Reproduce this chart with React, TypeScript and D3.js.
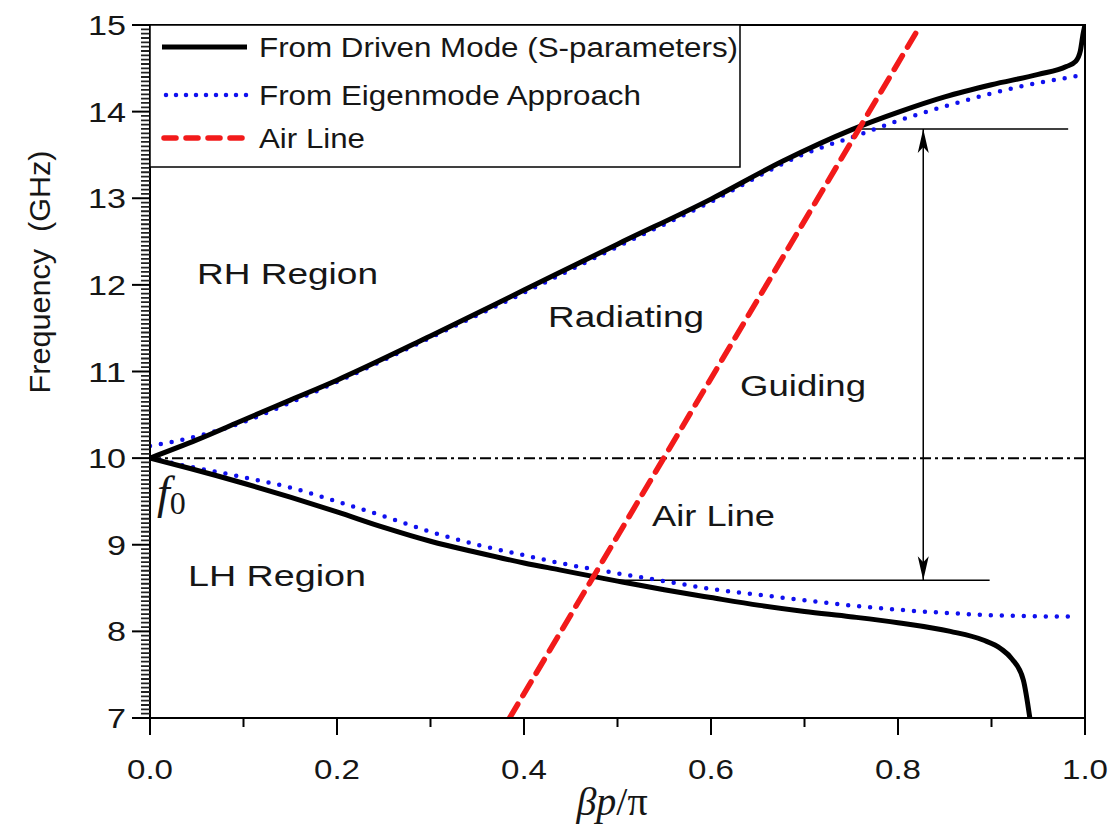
import React from 'react';
import * as d3 from 'd3';

// --- data (beta*p/pi, GHz) ---
const drivenUpper: [number, number][] = [
  [0, 10], [0.05, 10.21], [0.1, 10.44], [0.15, 10.67], [0.2, 10.9], [0.3, 11.41],
  [0.4, 11.94], [0.5, 12.47], [0.6, 12.99], [0.677, 13.43], [0.75, 13.79], [0.802, 14.0],
  [0.85, 14.17], [0.9, 14.31], [0.95, 14.43], [0.98, 14.52], [0.99, 14.58],
  [0.995, 14.7], [0.998, 14.9], [1.0, 15.0],
];
const drivenLower: [number, number][] = [
  [0, 10], [0.043, 9.88], [0.1, 9.71], [0.15, 9.55], [0.2, 9.38], [0.25, 9.2],
  [0.3, 9.04], [0.35, 8.91], [0.4, 8.79], [0.438, 8.71], [0.5, 8.58], [0.55, 8.48], [0.6, 8.39],
  [0.652, 8.3], [0.7, 8.23], [0.749, 8.17], [0.8, 8.1], [0.856, 8.0], [0.891, 7.9],
  [0.91, 7.8], [0.922, 7.68], [0.934, 7.44], [0.941, 7.0],
];
const eigenUpper: [number, number][] = [
  [0, 10.14], [0.025, 10.19], [0.096, 10.4], [0.15, 10.64], [0.2, 10.88], [0.3, 11.39],
  [0.4, 11.91], [0.5, 12.44], [0.6, 12.96], [0.695, 13.49], [0.763, 13.75], [0.799, 13.89],
  [0.856, 14.08], [0.927, 14.28], [0.991, 14.41],
];
const eigenLower: [number, number][] = [
  [0, 10], [0.043, 9.9], [0.1, 9.78], [0.15, 9.66], [0.2, 9.5], [0.25, 9.33],
  [0.3, 9.15], [0.35, 9.0], [0.4, 8.88], [0.438, 8.79], [0.5, 8.67], [0.55, 8.58], [0.6, 8.49],
  [0.645, 8.43], [0.7, 8.36], [0.749, 8.3], [0.8, 8.25], [0.856, 8.21], [0.92, 8.18],
  [0.991, 8.17],
];
const airLineGHzPerUnit = 18.2;
const airLineFreqs = [7, 15];
const f0 = 10;
const upperEdge = { f: 13.8, from: 0.752, to: 0.982 };
const lowerEdge = { f: 8.59, from: 0.485, to: 0.898 };
const arrowAt = 0.827;

const xTicks = [0, 0.2, 0.4, 0.6, 0.8, 1.0];
const xMinor = [0.1, 0.3, 0.5, 0.7, 0.9];
const yTicks = [7, 8, 9, 10, 11, 12, 13, 14, 15];
const yMinorStep = 0.05;
const legendLabels = ['From Driven Mode (S-parameters)', 'From Eigenmode Approach', 'Air Line'];

const W = 1118, H = 830;
const x = d3.scaleLinear().domain([0, 1]).range([150, 1085]);
const y = d3.scaleLinear().domain([7, 15]).range([718, 25]);
const line = d3.line<[number, number]>().x(d => x(d[0])).y(d => y(d[1])).curve(d3.curveMonotoneX);
const straight = d3.line<[number, number]>().x(d => x(d[0])).y(d => y(d[1]));

const sans = '"Liberation Sans", Arial, sans-serif';
const serif = '"Liberation Serif", "Times New Roman", serif';
const ink = '#161616';

const blackStyle = { fill: 'none', stroke: '#000', strokeWidth: 5, strokeLinejoin: 'round' as const };
const blueStyle = { fill: 'none', stroke: '#1010ee', strokeWidth: 4.5, strokeDasharray: '0,11', strokeLinecap: 'round' as const };
const redStyle = { fill: 'none', stroke: '#f21a1a', strokeWidth: 5.5, strokeDasharray: '16,10', strokeLinecap: 'round' as const };

export default function App() {
  // minor ticks every 0.05 GHz on the left axis
  const nMinor = Math.round((15 - 7) / yMinorStep);
  let minorPath = '';
  for (let i = 1; i < nMinor; i++) {
    if (i % 20 === 0) continue;
    const yy = y(7 + i * yMinorStep);
    minorPath += `M${x(0) - 9},${yy}H${x(0)}`;
  }
  const airLine: [number, number][] = airLineFreqs.map(f => [f / airLineGHzPerUnit, f]);
  const legendY = [47, 95, 138];

  return (
    <svg width={W} height={H} style={{ position: 'absolute', left: 0, top: 0, background: '#fff' }}>
      <defs>
        <clipPath id="plot">
          <rect x={x(0)} y={y(15)} width={x(1) - x(0)} height={y(7) - y(15)} />
        </clipPath>
      </defs>

      {/* curves */}
      <g clipPath="url(#plot)">
        <path d={straight([[0, f0], [1, f0]]) || ''} stroke="#000" strokeWidth={2} strokeDasharray="11,4,3,4" fill="none" />
        <path d={straight([[upperEdge.from, upperEdge.f], [upperEdge.to, upperEdge.f]]) || ''} stroke="#000" strokeWidth={1.5} />
        <path d={straight([[lowerEdge.from, lowerEdge.f], [lowerEdge.to, lowerEdge.f]]) || ''} stroke="#000" strokeWidth={1.5} />
        <path d={line(eigenUpper) || ''} style={blueStyle} />
        <path d={line(eigenLower) || ''} style={blueStyle} />
        <path d={line(drivenUpper) || ''} style={blackStyle} />
        <path d={line(drivenLower) || ''} style={blackStyle} />
        <path d={straight(airLine) || ''} style={redStyle} />
      </g>

      {/* band arrow */}
      <line x1={x(arrowAt)} x2={x(arrowAt)} y1={y(lowerEdge.f)} y2={y(upperEdge.f)} stroke="#000" strokeWidth={1.5} />
      <path d={`M${x(arrowAt)},${y(upperEdge.f)} l5.5,24 l-5.5,-6 l-5.5,6 Z`} fill="#000" />
      <path d={`M${x(arrowAt)},${y(lowerEdge.f)} l5.5,-24 l-5.5,6 l-5.5,-6 Z`} fill="#000" />

      {/* frame */}
      <rect x={x(0)} y={y(15)} width={x(1) - x(0)} height={y(7) - y(15)} fill="none" stroke="#000" strokeWidth={2} />

      {/* x axis */}
      {xTicks.map(t => (
        <g key={'xt' + t}>
          <line x1={x(t)} x2={x(t)} y1={y(7)} y2={y(7) + 17} stroke="#000" strokeWidth={2} />
          <text x={x(t)} y={779} textAnchor="middle" fontFamily={sans} fontSize={28} fill={ink}
            textLength={46} lengthAdjust="spacingAndGlyphs">{t.toFixed(1)}</text>
        </g>
      ))}
      {xMinor.map(t => (
        <line key={'xm' + t} x1={x(t)} x2={x(t)} y1={y(7)} y2={y(7) + 9} stroke="#000" strokeWidth={2} />
      ))}
      <text x={612} y={815} textAnchor="middle" fontFamily={serif} fontSize={40} fill={ink}>
        <tspan fontStyle="italic">βp</tspan><tspan>/π</tspan>
      </text>

      {/* y axis */}
      <path d={minorPath} stroke="#222" strokeWidth={1.8} fill="none" />
      {yTicks.map(t => (
        <g key={'yt' + t}>
          <line x1={x(0) - 18} x2={x(0)} y1={y(t)} y2={y(t)} stroke="#000" strokeWidth={2} />
          <text x={126} y={y(t) + 10} textAnchor="end" fontFamily={sans} fontSize={28} fill={ink}
            textLength={t >= 10 ? 38 : 19} lengthAdjust="spacingAndGlyphs">{t}</text>
        </g>
      ))}
      <text transform="translate(50,272) rotate(-90)" textAnchor="middle" fontFamily={sans} fontSize={29} fill={ink}
        textLength={243} lengthAdjust="spacingAndGlyphs" xmlSpace="preserve">Frequency  (GHz)</text>

      {/* legend */}
      <rect x={x(0)} y={y(15)} width={590} height={142} fill="#fff" stroke="#000" strokeWidth={1.5} />
      <line x1={162} x2={247} y1={legendY[0]} y2={legendY[0]} style={blackStyle} />
      <line x1={166} x2={247} y1={legendY[1]} y2={legendY[1]} style={{ ...blueStyle, strokeDasharray: '0,10' }} />
      <line x1={164} x2={247} y1={legendY[2]} y2={legendY[2]} style={{ ...redStyle, strokeDasharray: '12,10' }} />
      {legendLabels.map((l, i) => (
        <text key={l} x={259} y={legendY[i] + 10} fontFamily={sans} fontSize={27} fill={ink}
          textLength={[479, 382, 106][i]} lengthAdjust="spacingAndGlyphs">{l}</text>
      ))}

      {/* annotations */}
      <text x={197} y={284} fontFamily={sans} fontSize={30} fill={ink} textLength={181} lengthAdjust="spacingAndGlyphs">RH Region</text>
      <text x={548} y={327} fontFamily={sans} fontSize={30} fill={ink} textLength={156} lengthAdjust="spacingAndGlyphs">Radiating</text>
      <text x={740} y={396} fontFamily={sans} fontSize={30} fill={ink} textLength={126} lengthAdjust="spacingAndGlyphs">Guiding</text>
      <text x={652} y={526} fontFamily={sans} fontSize={30} fill={ink} textLength={123} lengthAdjust="spacingAndGlyphs">Air Line</text>
      <text x={188} y={586} fontFamily={sans} fontSize={30} fill={ink} textLength={178} lengthAdjust="spacingAndGlyphs">LH Region</text>
      <text x={157} y={508} fontFamily={serif} fontSize={46} fill={ink}>
        <tspan fontStyle="italic">f</tspan><tspan fontSize={32} dy={6}>0</tspan>
      </text>
    </svg>
  );
}
